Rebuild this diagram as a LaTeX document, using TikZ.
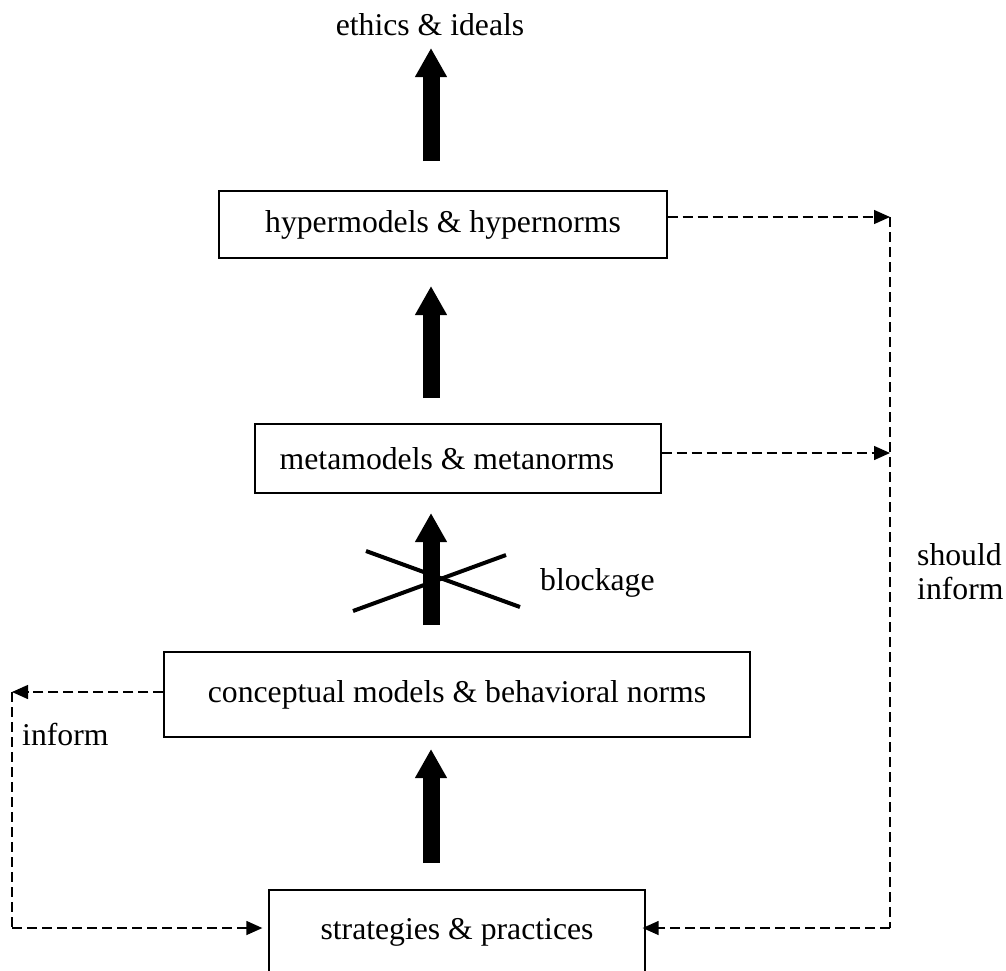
\documentclass[tikz,border=0pt]{standalone}
\usepackage{fontspec}
\setmainfont{Liberation Serif}
\usetikzlibrary{arrows.meta,calc}
\tikzset{
  px/.style={x=1pt,y=-1pt},
  boxnode/.style={draw,line width=1.3pt,inner sep=0pt,font=\fontsize{31.7}{38}\selectfont},
  lbl/.style={inner sep=0pt,font=\fontsize{31.7}{38}\selectfont},
  bigarrow/.style={line width=17pt,-{Triangle[length=29pt 0,width=30pt 0]}},
  dconn/.style={line width=1.4pt,dash pattern=on 10pt off 5pt,-{Triangle[length=16pt 0,width=14pt 0]}},
  dline/.style={line width=1.4pt,dash pattern=on 10pt off 5pt},
  crossline/.style={line width=4pt}
}
\begin{document}
\begin{tikzpicture}[px]
\useasboundingbox (0,0) rectangle (1006,970);
\fill[white] (0,0) rectangle (1006,970);
% boxes
\node[boxnode,minimum width=448pt,minimum height=67pt] (hyper) at (443,224.5) {hypermodels \& hypernorms};
\node[boxnode,minimum width=406pt,minimum height=69pt] (meta) at (458,458.5) {\hspace*{-22pt}metamodels \& metanorms};
\node[boxnode,minimum width=586pt,minimum height=85pt] (concept) at (457,694.5) {conceptual models \& behavioral norms};
\node[boxnode,minimum width=376pt,minimum height=85pt] (strat) at (457,932.5) {strategies \& practices};
% labels
\node[lbl,anchor=base] (ethics) at (430,35) {ethics \& ideals};
\node[lbl,anchor=base west] (block) at (540,590) {blockage};
\node[lbl,anchor=base west,align=left,font=\fontsize{31.7}{34}\selectfont] (should) at (917,599) {should\\inform};
\node[lbl,anchor=base west] (inform) at (22,745) {inform};
% thick arrows
\coordinate (ax) at (431,0);
\draw[bigarrow] (ax|-0,161) -- (ax|-0,48);
\draw[bigarrow] (ax|-0,398) -- (ax|-0,286);
\draw[bigarrow] (ax|-0,625) -- (ax|-0,513);
\draw[bigarrow] (ax|-0,863) -- (ax|-0,749);
% blockage cross
\draw[crossline] (366,551) -- (520,607);
\draw[crossline] (353,611) -- (506,555);
% dashed connectors
\coordinate (R1) at (890,217);
\coordinate (R2) at (890,453);
\coordinate (R3) at (890,928);
\coordinate (L1) at (12,692);
\coordinate (L2) at (12,928);
\draw[dconn] (hyper.east|-R1) -- (R1);
\draw[dconn] (meta.east|-R2) -- (R2);
\draw[dline] (R1) -- (R3);
\draw[dconn,shorten >=-3pt] (R3) -- (strat.east|-R3);
\draw[dconn] (concept.west|-L1) -- (L1);
\draw[dline] (L1) -- (L2);
\draw[dconn,shorten >=6pt] (L2) -- (strat.west|-L2);
\end{tikzpicture}
\end{document}
